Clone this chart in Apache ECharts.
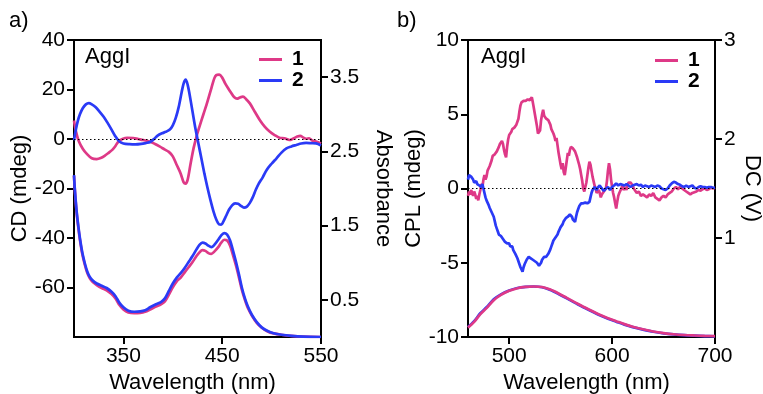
<!DOCTYPE html>
<html>
<head>
<meta charset="utf-8">
<script src="https://cdn.jsdelivr.net/npm/echarts@6/dist/echarts.min.js"></script>
<style>
  html, body { margin: 0; padding: 0; background: #fff; }
  #chart { width: 763px; height: 394px; }
</style>
</head>
<body>
<div id="chart"></div>
<script>
// ---- Panel a: CD spectra (mdeg) vs wavelength (nm) ----
const cd1 = [[300,7.5],[302,3],[305,-1],[309,-4],[313,-6],[318,-7.8],[323,-8.1],[327,-7.7],[331,-6.8],[335,-5.6],[339,-4.3],[342,-2.8],[345,-1.0],[349,0],[354,0.5],[360,0.4],[365,0],[370,-0.4],[377,-1.1],[382,-2],[387,-3.1],[392,-4.3],[396,-5.2],[400,-7],[404,-10.5],[408,-14],[411,-17.5],[413,-18],[415,-16.5],[418,-10],[421,-3.8],[424,1],[427,5],[431,10],[435,15],[439,20.5],[442,24.5],[444,25.8],[447,26],[450,24.8],[453,22.5],[456,20.5],[459,18.7],[462,17],[465,16.3],[468,16.8],[471,17.1],[474,16.2],[478,14.4],[483,11],[488,7.7],[493,5],[498,3],[503,1.6],[508,0.5],[513,0.3],[518,-0.4],[522,0.2],[526,1.0],[529,1.3],[532,0.6],[535,0.1],[538,0.3],[541,-0.6],[545,-1.0],[550,-1.8]];
const cd2 = [[300,-0.5],[302,4],[304,7.5],[306,10],[309,12.5],[312,14],[315,14.5],[318,14],[322,12.8],[326,11],[330,9],[334,6.5],[338,3.8],[342,1],[346,-1],[350,-1.8],[356,-2.1],[362,-2.2],[368,-2],[373,-1.6],[377,-1.2],[381,0],[385,1.5],[389,2.3],[393,2.9],[397,3.8],[400,5.5],[403,8.5],[406,13],[409,19],[411,22.5],[413,24],[415,22],[417,18],[420,11],[423,4],[426,-2],[429,-8],[432,-14],[435,-19.5],[438,-24.5],[441,-29],[444,-32.5],[447,-34.5],[449,-34.6],[451,-33.5],[454,-31],[457,-28.5],[460,-26.8],[463,-26],[466,-26.2],[469,-27],[472,-27.7],[475,-27.3],[478,-25.8],[481,-23.5],[484,-20.5],[487,-18],[491,-15.5],[495,-12.5],[500,-10],[505,-7.8],[510,-5.5],[515,-3.8],[520,-3],[525,-2.4],[530,-1.8],[535,-1.6],[540,-1.7],[545,-1.8],[550,-2.6]];

// ---- Panel a: absorbance spectra ----
const abs1 = [[300,2.17],[301,1.95],[302.7,1.67],[304.5,1.46],[306,1.31],[308.5,1.11],[311,0.97],[313.5,0.86],[316,0.79],[319,0.74],[323,0.70],[328,0.66],[333,0.63],[338,0.58],[342,0.52],[346,0.43],[350,0.37],[355,0.33],[361,0.32],[367,0.325],[372,0.34],[377,0.37],[383,0.41],[388,0.44],[392,0.48],[396,0.57],[400,0.67],[404,0.75],[408,0.80],[412,0.87],[416,0.94],[420,1.01],[424,1.09],[427,1.14],[430,1.17],[433,1.16],[436,1.13],[439,1.12],[442,1.15],[446,1.21],[449,1.27],[452,1.31],[455,1.30],[458,1.23],[461,1.10],[464,0.96],[467,0.80],[470,0.63],[473,0.50],[476,0.39],[480,0.29],[485,0.19],[490,0.125],[496,0.075],[502,0.048],[510,0.03],[520,0.015],[532,0.005],[550,0.0]];
const abs2 = [[300,2.18],[301,1.96],[302.7,1.69],[304.5,1.48],[306,1.33],[308.5,1.13],[311,0.99],[313.5,0.88],[316,0.81],[319,0.76],[323,0.72],[328,0.69],[333,0.66],[338,0.61],[342,0.55],[346,0.46],[350,0.40],[355,0.355],[361,0.34],[367,0.345],[372,0.36],[377,0.40],[383,0.44],[388,0.47],[392,0.52],[396,0.62],[400,0.72],[404,0.80],[408,0.86],[412,0.93],[416,1.01],[420,1.09],[424,1.18],[427,1.24],[430,1.27],[433,1.26],[436,1.23],[439,1.21],[442,1.24],[446,1.31],[449,1.37],[452,1.40],[455,1.38],[458,1.30],[461,1.16],[464,1.01],[467,0.84],[470,0.66],[473,0.52],[476,0.41],[480,0.30],[485,0.20],[490,0.13],[496,0.08],[502,0.05],[510,0.03],[520,0.015],[532,0.005],[550,0.0]];

// ---- Panel b: CPL spectra (mdeg) ----
const cpl1 = [[460,-0.5],[461,-0.2],[462,-0.4],[463,-0.1],[464,-0.3],[465,-0.5],[466,-0.2],[467,-0.4],[468,-0.7],[469,-0.5],[470,-0.8],[471,-0.4],[472,-0.1],[473,0.3],[474,0.1],[475,0.6],[476,0.9],[477,0.6],[478,0.8],[479,1.2],[480,1.1],[481,1.5],[482,1.4],[483,1.9],[484,2.2],[485,2.1],[486,2.3],[487,2.2],[488,2.5],[489,2.4],[490,2.8],[491,3.0],[492,2.9],[493,3.2],[494,3.0],[495,2.6],[496,2.3],[497,2.1],[498,2.8],[499,3.3],[500,3.6],[501,3.5],[502,3.8],[503,4.0],[504,3.9],[505,4.1],[506,4.0],[507,4.3],[508,4.2],[509,4.7],[510,5.2],[511,5.6],[512,5.8],[513,5.7],[514,5.9],[515,5.8],[516,5.9],[517,5.85],[518,6.0],[519,5.9],[520,5.95],[521,6.0],[522,6.15],[523,5.8],[524,5.4],[525,5.0],[526,4.6],[527,4.2],[528,3.7],[529,3.6],[530,3.9],[531,4.6],[532,5.0],[533,5.3],[534,4.9],[535,5.0],[536,4.7],[537,4.8],[538,4.6],[539,4.7],[540,4.3],[541,4.0],[542,4.1],[543,3.7],[544,3.5],[545,3.2],[546,3.4],[547,2.9],[548,2.4],[549,2.0],[550,1.6],[551,1.3],[552,1.7],[553,1.1],[554,0.9],[555,1.4],[556,1.9],[557,2.4],[558,2.2],[559,2.6],[560,2.8],[561,2.9],[562,2.7],[563,2.8],[564,2.5],[565,2.4],[566,2.1],[567,2.0],[568,1.6],[569,1.3],[570,0.9],[571,0.5],[572,0.0],[573,-0.2],[574,-0.1],[575,0.4],[576,0.9],[577,1.4],[578,1.8],[579,1.6],[580,1.2],[581,0.8],[582,0.5],[583,0.2],[584,0.0],[585,-0.3],[586,-0.2],[587,-0.1],[588,-0.3],[589,-0.6],[590,-0.4],[591,-0.5],[592,-0.2],[593,-0.3],[594,0.0],[595,0.5],[596,1.2],[597,1.7],[598,1.3],[599,0.6],[600,0.1],[601,-0.3],[602,-0.6],[603,-1.0],[604,-1.35],[605,-0.9],[606,-0.5],[607,-0.3],[608,-0.4],[609,0.0],[610,0.2],[611,-0.1],[612,0.0],[613,0.1],[614,-0.1],[615,0.2],[616,0.4],[617,0.5],[618,0.4],[619,0.5],[620,0.2],[621,0.0],[622,-0.1],[624,-0.3],[626,-0.2],[628,-0.5],[630,-0.4],[632,-0.5],[634,-0.6],[636,-0.4],[638,-0.5],[640,-0.3],[642,-0.6],[644,-0.7],[646,-0.8],[648,-0.6],[650,-0.5],[652,-0.6],[654,-0.4],[656,-0.3],[658,-0.2],[660,0.0],[662,0.1],[664,-0.05],[666,0.1],[668,0.0],[670,-0.1],[672,-0.2],[674,-0.3],[676,-0.4],[678,-0.3],[680,-0.25],[682,-0.2],[684,-0.1],[686,-0.15],[688,-0.05],[690,0.0],[692,-0.1],[694,-0.05],[696,0.05],[698,0.0],[700,0.05]];
const cpl2 = [[460,0.6],[461,0.9],[462,1.0],[463,0.8],[464,0.7],[465,0.6],[466,0.4],[467,0.5],[468,0.5],[469,0.3],[470,0.35],[471,0.2],[472,0.25],[473,0.1],[474,0.3],[475,0.0],[476,-0.3],[477,-0.6],[478,-0.8],[479,-0.9],[480,-1.1],[481,-1.3],[482,-1.4],[483,-1.6],[484,-1.7],[485,-1.9],[486,-2.2],[487,-2.5],[488,-2.7],[489,-2.9],[490,-3.1],[491,-3.1],[492,-3.2],[493,-3.3],[494,-3.4],[495,-3.4],[496,-3.6],[497,-3.5],[498,-3.7],[499,-3.8],[500,-3.7],[501,-3.9],[502,-4.0],[503,-3.9],[504,-4.15],[505,-4.2],[506,-4.4],[507,-4.5],[508,-4.7],[509,-4.8],[510,-5.1],[511,-5.3],[512,-5.4],[513,-5.6],[514,-5.3],[515,-5.1],[516,-5.0],[517,-4.8],[518,-4.7],[519,-4.6],[520,-4.5],[521,-4.7],[522,-4.6],[523,-4.8],[524,-4.7],[525,-4.9],[526,-4.8],[527,-5.0],[528,-5.1],[529,-5.2],[530,-5.15],[531,-5.0],[532,-4.8],[533,-4.7],[534,-4.6],[535,-4.5],[536,-4.6],[537,-4.5],[538,-4.4],[539,-4.3],[540,-4.1],[541,-3.9],[542,-3.7],[543,-3.5],[544,-3.4],[545,-3.3],[546,-3.2],[547,-3.1],[548,-2.9],[549,-2.8],[550,-2.6],[551,-2.5],[552,-2.4],[553,-2.2],[554,-2.1],[555,-2.0],[556,-1.95],[557,-1.9],[558,-1.8],[559,-1.75],[560,-1.8],[561,-1.9],[562,-2.1],[563,-2.2],[564,-2.25],[565,-1.9],[566,-1.6],[567,-1.4],[568,-1.2],[569,-1.1],[570,-1.0],[571,-0.95],[572,-1.0],[573,-0.9],[574,-0.95],[575,-1.0],[576,-1.0],[577,-1.05],[578,-0.9],[579,-0.6],[580,-0.3],[581,-0.1],[582,0.0],[583,0.1],[584,0.0],[585,-0.1],[586,0.05],[587,0.1],[588,0.2],[589,0.1],[590,0.0],[592,-0.15],[594,0.0],[596,0.1],[598,-0.1],[600,0.1],[602,0.2],[604,0.35],[606,0.2],[608,0.3],[610,0.25],[612,0.2],[614,0.3],[616,0.2],[618,0.1],[620,0.2],[622,0.25],[624,0.3],[626,0.2],[628,0.25],[630,0.1],[632,0.2],[634,0.15],[636,0.1],[638,0.2],[640,0.15],[642,0.1],[644,0.2],[646,0.15],[648,0.0],[650,-0.05],[652,-0.1],[654,0.0],[656,0.2],[658,0.35],[660,0.45],[662,0.4],[664,0.3],[666,0.25],[668,0.15],[670,0.1],[672,0.2],[674,0.1],[676,0.15],[678,0.2],[680,0.05],[682,0.0],[684,0.1],[686,0.15],[688,0.1],[690,0.1],[692,0.05],[694,0.1],[696,0.1],[698,0.05],[700,0.05]];

// ---- Panel b: DC signal (V) ----
const dc1 = [[460,0.095],[466,0.152],[472,0.232],[478,0.292],[485,0.372],[492,0.425],[500,0.466],[508,0.493],[516,0.506],[524,0.51],[532,0.505],[540,0.479],[548,0.44],[556,0.395],[564,0.35],[572,0.305],[580,0.265],[588,0.225],[596,0.19],[604,0.16],[612,0.13],[620,0.104],[630,0.078],[640,0.056],[650,0.04],[660,0.028],[670,0.02],[680,0.015],[690,0.011],[700,0.009]];
const dc2 = [[460,0.10],[466,0.16],[472,0.24],[478,0.30],[485,0.38],[492,0.43],[500,0.47],[508,0.495],[516,0.507],[524,0.51],[532,0.503],[540,0.475],[548,0.435],[556,0.39],[564,0.345],[572,0.30],[580,0.26],[588,0.22],[596,0.185],[604,0.155],[612,0.125],[620,0.10],[630,0.075],[640,0.053],[650,0.037],[660,0.026],[670,0.018],[680,0.013],[690,0.009],[700,0.007]];

// ---- Axis ticks and labels ----
const xTicksA = [350, 450, 550];
const xTicksB = [500, 600, 700];
const cdTicks = [-60, -40, -20, 0, 20, 40];
const absTicks = [0.5, 1.5, 2.5, 3.5];
const dcTicks = [1, 2, 3];
const seriesNames = ['1', '2'];
const panelTitles = ['a)', 'b)'];
const sampleLabel = 'AggI';

const PINK = '#de3987';
const BLUE = '#2a3af6';
const INK = '#000';
const FONT = '"Liberation Sans", Arial, Helvetica, sans-serif';

const axisLine = { show: true, onZero: false, lineStyle: { color: INK, width: 2 } };
const tickStyle = { color: INK, width: 2 };
const labelStyle = { color: INK, fontSize: 21, fontFamily: FONT };
const nameStyle = { color: INK, fontSize: 22, fontFamily: FONT };

function xAxisFor(gridIndex, min, max, ticks) {
  return {
    gridIndex, type: 'value', min, max,
    axisLine,
    axisTick: { show: true, length: 7, lineStyle: tickStyle, customValues: ticks },
    axisLabel: Object.assign({ margin: 9, customValues: ticks }, labelStyle),
    splitLine: { show: false },
    name: 'Wavelength (nm)', nameLocation: 'middle', nameGap: 32,
    nameTextStyle: Object.assign({ padding: [0, 10, 0, 0] }, nameStyle)
  };
}

function yAxisFor(gridIndex, position, opts) {
  const base = {
    gridIndex, type: 'value', position,
    axisLine,
    axisTick: { show: true, length: 7, lineStyle: tickStyle },
    axisLabel: Object.assign({ margin: 9 }, labelStyle),
    splitLine: { show: false },
    nameLocation: 'middle',
    nameTextStyle: nameStyle
  };
  const merged = Object.assign(base, opts);
  if (opts.ticks) {
    merged.axisTick = Object.assign({}, base.axisTick, { customValues: opts.ticks });
    merged.axisLabel = Object.assign({}, base.axisLabel, { customValues: opts.ticks });
    delete merged.ticks;
  }
  return merged;
}

function line(name, data, color, xi, yi, smooth, extra) {
  return Object.assign({
    name, type: 'line', data, xAxisIndex: xi, yAxisIndex: yi,
    showSymbol: false, symbol: 'none', smooth: smooth,
    lineStyle: { color, width: 2.7 }, itemStyle: { color },
    silent: true
  }, extra || {});
}

const zeroLine = {
  markLine: {
    silent: true, symbol: ['none', 'none'],
    label: { show: false },
    lineStyle: { color: INK, type: [1.5, 2.5], width: 1 },
    data: [{ yAxis: 0 }]
  }
};

const titleStyle = { color: INK, fontSize: 22, fontWeight: 'normal', fontFamily: FONT };
const legendStyle = { color: INK, fontSize: 21, fontWeight: 'bold', fontFamily: FONT,
  lineHeight: 18, padding: [0, 0, 0, 5] };

const option = {
  animation: false,
  backgroundColor: '#fff',
  textStyle: { fontFamily: FONT, color: INK },
  title: [
    { text: panelTitles[0], left: 9, top: 10, padding: 0, textStyle: titleStyle },
    { text: panelTitles[1], left: 397, top: 10, padding: 0, textStyle: titleStyle },
    { text: sampleLabel, left: 85, top: 46, padding: 0, textStyle: titleStyle },
    { text: sampleLabel, left: 481, top: 46, padding: 0, textStyle: titleStyle }
  ],
  legend: [
    { data: seriesNames, orient: 'vertical', left: 259, top: 49, padding: 0,
      itemWidth: 23, itemHeight: 3, icon: 'rect', itemGap: 0, selectedMode: false,
      textStyle: legendStyle },
    { data: seriesNames, orient: 'vertical', left: 655, top: 50, padding: 0,
      itemWidth: 23, itemHeight: 3, icon: 'rect', itemGap: 0, selectedMode: false,
      textStyle: legendStyle }
  ],
  grid: [
    { left: 74, top: 40, width: 247, height: 297, show: true, borderColor: INK, borderWidth: 2,
      backgroundColor: 'transparent', containLabel: false, outerBoundsMode: 'none' },
    { left: 468, top: 40, width: 247, height: 297, show: true, borderColor: INK, borderWidth: 2,
      backgroundColor: 'transparent', containLabel: false, outerBoundsMode: 'none' }
  ],
  xAxis: [
    xAxisFor(0, 300, 550, xTicksA),
    xAxisFor(1, 460, 700, xTicksB)
  ],
  yAxis: [
    yAxisFor(0, 'left', { min: -80, max: 40, ticks: cdTicks, name: 'CD (mdeg)', nameGap: 37, nameRotate: 90 }),
    yAxisFor(0, 'right', { min: 0, max: 4, ticks: absTicks, name: 'Absorbance', nameGap: 51, nameRotate: -90 }),
    yAxisFor(1, 'left', { min: -10, max: 10, interval: 5, name: 'CPL (mdeg)', nameGap: 43, nameRotate: 90 }),
    yAxisFor(1, 'right', { min: 0, max: 3, ticks: dcTicks, name: 'DC (V)', nameGap: 26, nameRotate: -90 })
  ],
  series: [
    line('1', cd1, PINK, 0, 0, 0.3, zeroLine),
    line('2', cd2, BLUE, 0, 0, 0.3),
    line('1', abs1, PINK, 0, 1, 0.3),
    line('2', abs2, BLUE, 0, 1, 0.3),
    line('1', cpl1, PINK, 1, 2, false, zeroLine),
    line('2', cpl2, BLUE, 1, 2, false),
    line('2', dc2, BLUE, 1, 3, 0.3),
    line('1', dc1, PINK, 1, 3, 0.3)
  ]
};

const chart = echarts.init(document.getElementById('chart'), null, { renderer: 'canvas' });
chart.setOption(option);
</script>
</body>
</html>
